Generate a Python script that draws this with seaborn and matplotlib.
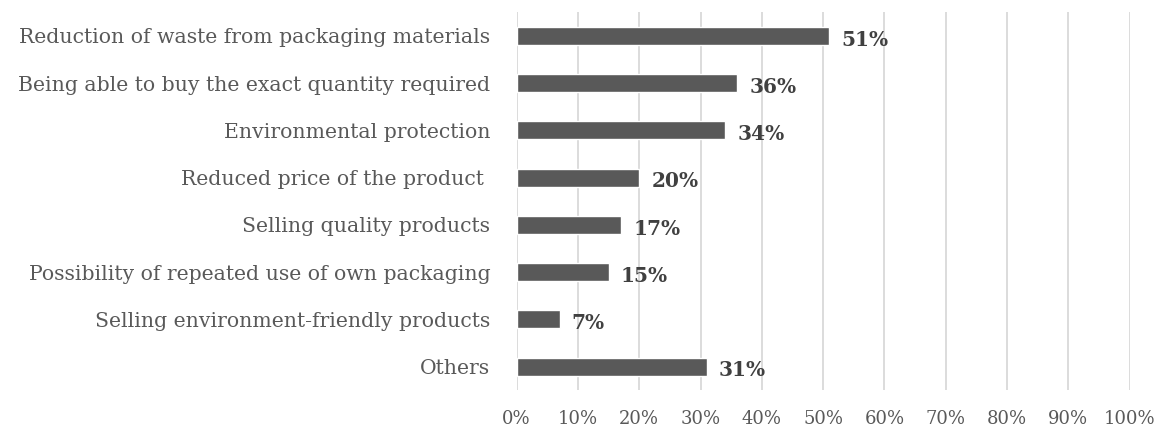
import matplotlib
matplotlib.use("Agg")
from matplotlib import pyplot as plt
import seaborn as sns
import pandas as pd

# Chart data
reasons = [
    'Reduction of waste from packaging materials',
    'Being able to buy the exact quantity required',
    'Environmental protection',
    'Reduced price of the product ',
    'Selling quality products',
    'Possibility of repeated use of own packaging',
    'Selling environment-friendly products',
    'Others',
]
shares = [51, 36, 34, 20, 17, 15, 7, 31]
x_ticks = [0, 10, 20, 30, 40, 50, 60, 70, 80, 90, 100]

df = pd.DataFrame({'reason': reasons, 'share': shares})

sns.set_theme(style='white')
plt.rcParams['font.family'] = ['DejaVu Serif']

fig = plt.figure(figsize=(11.61, 4.34), dpi=100)
ax = fig.add_axes([0.445, 0.101, 0.528, 0.871])

sns.barplot(data=df, x='share', y='reason', color='#595959', width=0.38,
            saturation=1, ax=ax, zorder=3)

ax.set_xlim(0, 100)
ax.set_xticks(x_ticks)
ax.set_xticklabels([f'{t}%' for t in x_ticks], fontsize=13, color='#595959')
ax.tick_params(axis='y', labelsize=14.7, labelcolor='#595959', length=0, pad=19)
ax.tick_params(axis='x', length=0, pad=14)
ax.grid(axis='x', color='#d9d9d9', linewidth=1.3, zorder=0)
ax.set_xlabel('')
ax.set_ylabel('')
for s in ax.spines.values():
    s.set_visible(False)

# Value labels
for i, v in enumerate(shares):
    ax.text(v + 2.0, i + 0.08, f'{v}%', va='center', ha='left',
            fontsize=14.5, fontweight='bold', color='#404040')

fig.savefig('out.png', dpi=100)
